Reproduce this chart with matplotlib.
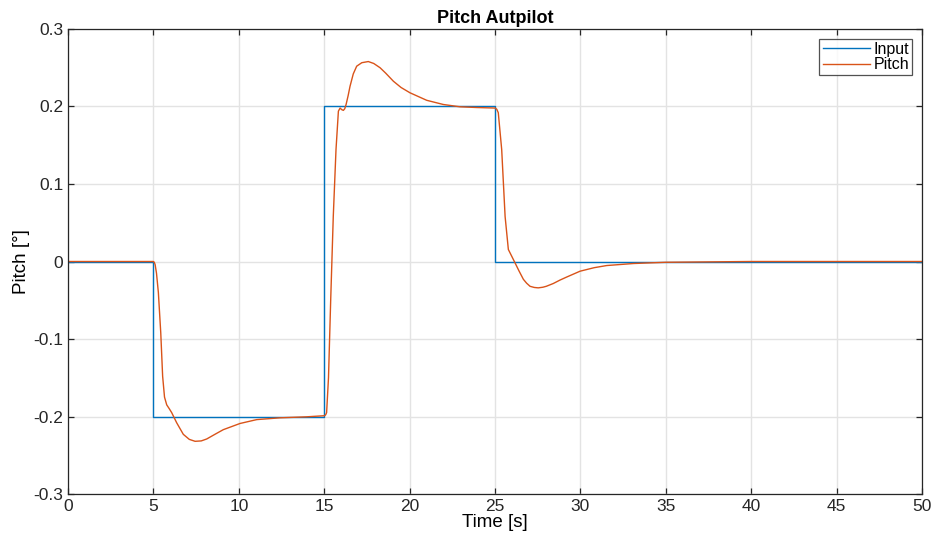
import numpy as np
import matplotlib.pyplot as plt

plt.rcParams["font.family"] = ["Liberation Sans", "DejaVu Sans"]

# reference input (step changes)
input_t = [0, 5, 15, 25, 50]
input_v = [0, -0.2, 0.2, 0, 0]

# pitch response
pitch_t = [0, 5.0, 5.05, 5.1, 5.18, 5.29, 5.43, 5.54, 5.65, 5.78, 5.93, 6.07,
           6.36, 6.75, 7.1, 7.44, 7.8, 8.12, 8.6, 9.09, 10.07, 11.05, 12.41,
           13.97, 15.0, 15.08, 15.14, 15.25, 15.38, 15.53, 15.69, 15.83, 15.93,
           16.02, 16.12, 16.2, 16.28, 16.4, 16.51, 16.7, 16.9, 17.2, 17.58, 17.9,
           18.27, 18.6, 19.05, 19.5, 20.02, 21.0, 21.97, 22.95, 23.93, 25.0,
           25.1, 25.19, 25.39, 25.59, 25.78, 25.95, 26.17, 26.4, 26.66, 26.85,
           27.05, 27.3, 27.53, 27.8, 28.0, 28.41, 28.8, 29.2, 29.98, 30.8,
           31.54, 33.1, 35.0, 40.0, 50.0]
pitch_v = [0, 0, -0.001, -0.004, -0.015, -0.040, -0.092, -0.148, -0.175, -0.185,
           -0.190, -0.195, -0.208, -0.223, -0.2295, -0.232, -0.2315, -0.229,
           -0.223, -0.217, -0.209, -0.204, -0.2017, -0.2004, -0.199, -0.198,
           -0.195, -0.150, -0.049, 0.058, 0.1445, 0.194, 0.198, 0.196, 0.195,
           0.197, 0.2026, 0.214, 0.226, 0.242, 0.252, 0.2565, 0.258, 0.2555,
           0.250, 0.243, 0.2326, 0.2245, 0.2177, 0.208, 0.2026, 0.1996, 0.1987,
           0.198, 0.1965, 0.192, 0.1445, 0.058, 0.0155, 0.008, -0.0017, -0.012,
           -0.023, -0.028, -0.032, -0.0335, -0.034, -0.0332, -0.032, -0.0284,
           -0.024, -0.020, -0.0125, -0.008, -0.0052, -0.0026, -0.001, 0.0, 0.0]

fig = plt.figure(figsize=(9.38, 5.44), dpi=100)
ax = fig.add_axes([0.0725, 0.0919, 0.9105, 0.8548])

ax.plot(input_t, input_v, drawstyle="steps-post", color="#0072BD", lw=1.0, label="Input")
ax.plot(pitch_t, pitch_v, color="#D95319", lw=1.0, label="Pitch")

ax.set_xlim(0, 50)
ax.set_ylim(-0.3, 0.3)
ax.set_xticks(np.arange(0, 51, 5))
yt = [-0.3, -0.2, -0.1, 0, 0.1, 0.2, 0.3]
ax.set_yticks(yt)
ax.set_yticklabels(["-0.3", "-0.2", "-0.1", "0", "0.1", "0.2", "0.3"])

ax.grid(True, color="#e3e3e3", lw=1.0)
ax.set_axisbelow(True)
for s in ax.spines.values():
    s.set_color("#262626")
    s.set_linewidth(0.9)
ax.tick_params(direction="in", top=True, right=True, length=4, width=0.9,
               color="#262626", labelsize=12.5, labelcolor="#262626")

ax.set_title("Pitch Autpilot", fontsize=13, fontweight="bold", pad=4)
ax.set_xlabel("Time [s]", fontsize=13.5, labelpad=0)
ax.set_ylabel("Pitch [°]", fontsize=13.5, labelpad=2)

leg = ax.legend(loc="upper right", fontsize=11.5, frameon=True, fancybox=False,
                edgecolor="#262626", borderpad=0.2, handlelength=3.0,
                handletextpad=0.2, labelspacing=0.02, borderaxespad=0.6)
leg.get_frame().set_linewidth(0.9)

fig.savefig("out.png", dpi=100)
